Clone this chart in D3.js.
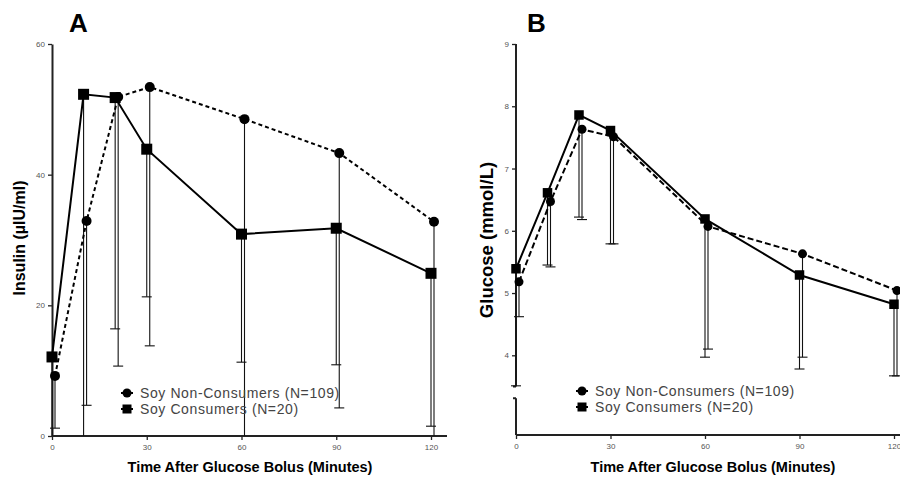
<!DOCTYPE html>
<html>
<head>
<meta charset="utf-8">
<script src="https://cdn.jsdelivr.net/npm/d3@7"></script>
<style>
  body { margin: 0; background: #fff; }
  svg { display: block; font-family: "Liberation Sans", Arial, sans-serif; }
</style>
</head>
<body>
<div id="viz"></div>
<script>
// data
var times = [0, 10, 20, 30, 60, 90, 120];
var seriesNames = ["Soy Non-Consumers (N=109)", "Soy Consumers (N=20)"];

// panel A: insulin
var insulinNon = [9.2, 32.9, 51.9, 53.4, 48.5, 43.3, 32.8];
var insulinNonLow = [1.2, 4.7, 10.7, 13.8, -5, 4.3, -5];
var insulinSoy = [12.1, 52.3, 51.8, 43.9, 30.9, 31.8, 24.9];
var insulinSoyLow = [-5, -5, 16.4, 21.3, 11.3, 10.9, 1.5];
var insulinTicks = [0, 20, 40, 60];

// panel B: glucose
var glucoseNon = [5.18, 6.47, 7.63, 7.51, 6.07, 5.63, 5.04];
var glucoseNonLow = [4.62, 5.42, 6.18, 5.79, 4.10, 3.97, 3.67];
var glucoseSoy = [5.39, 6.61, 7.86, 7.61, 6.19, 5.29, 4.82];
var glucoseSoyLow = [3.51, 5.45, 6.22, 5.79, 3.97, 3.78, 3.67];
var glucoseTicks = [4, 5, 6, 7, 8, 9];

var xTicks = [0, 30, 60, 90, 120];

var width = 900, height = 479;
var svg = d3.select('#viz').append('svg')
  .attr('width', width)
  .attr('height', height);

function panel(o) {
  var g = svg.append('g');
  var x = d3.scaleLinear().domain([0, 120]).range([o.x0, o.x1]);
  var y = d3.scaleLinear().domain(o.yDomain).range([o.yBottom, 44]).clamp(true);

  // axes
  var yAxis = d3.axisLeft(y).tickValues(o.yTicks).tickFormat(d3.format('d')).tickSize(4).tickSizeOuter(0);
  var xAxis = d3.axisBottom(x).tickValues(xTicks).tickFormat(d3.format('d')).tickSize(4).tickSizeOuter(0);

  var ya = g.append('g').attr('transform', `translate(${o.x0},0)`).call(yAxis);
  var xa = g.append('g').attr('transform', `translate(0,${o.yBottom})`).call(xAxis);
  [ya, xa].forEach(function(a) {
    a.selectAll('text').attr('font-size', 8).attr('fill', '#555')
      .attr('font-family', '"Liberation Sans", Arial, sans-serif');
    a.selectAll('line').attr('stroke', '#222').attr('stroke-width', 1.3);
    a.select('.domain').attr('stroke', '#222').attr('stroke-width', 2);
  });
  xa.select('.domain').attr('d', `M${o.x0},0H${o.xEnd}`);
  if (o.yBreak) {
    ya.select('.domain').attr('d',
      `M0,${y(o.yDomain[1])}V${y(o.yBreak[1])}M-3,${y(o.yBreak[1])}H0` +
      `M-3,${y(o.yBreak[0])}H0M0,${y(o.yBreak[0])}V${o.yBottom}`);
  }
  xa.selectAll('.tick text').attr('dy', '0.9em');

  // series
  var series = [
    { vals: o.non, low: o.nonLow, dx: 3, dash: o.dash, shape: 'circle' },
    { vals: o.soy, low: o.soyLow, dx: 0, dash: null, shape: 'square' }
  ];

  series.forEach(function(s) {
    var pts = times.map(function(t, i) { return { t: t, v: s.vals[i], lo: s.low[i] }; });
    // error bars (lower only)
    var eb = g.append('g');
    eb.selectAll('line.v').data(pts).join('line')
      .attr('x1', d => x(d.t) + s.dx).attr('x2', d => x(d.t) + s.dx)
      .attr('y1', d => y(d.v)).attr('y2', d => y(d.lo))
      .attr('stroke', '#111').attr('stroke-width', 1.1);
    eb.selectAll('line.c').data(pts.filter(d => d.lo > o.yDomain[0])).join('line')
      .attr('x1', d => x(d.t) + s.dx - 5).attr('x2', d => x(d.t) + s.dx + 5)
      .attr('y1', d => y(d.lo)).attr('y2', d => y(d.lo))
      .attr('stroke', '#111').attr('stroke-width', 1.1);
  });

  series.forEach(function(s) {
    var pts = times.map(function(t, i) { return { t: t, v: s.vals[i] }; });
    var line = d3.line().x(d => x(d.t) + s.dx).y(d => y(d.v));
    g.append('path').datum(pts)
      .attr('d', line)
      .attr('fill', 'none')
      .attr('stroke', '#000')
      .attr('stroke-width', 2)
      .attr('stroke-dasharray', s.dash);
    if (s.shape === 'circle') {
      g.selectAll(null).data(pts).join('circle')
        .attr('cx', d => x(d.t) + s.dx).attr('cy', d => y(d.v))
        .attr('r', o.r).attr('fill', '#000');
    } else {
      g.selectAll(null).data(pts).join('rect')
        .attr('x', d => x(d.t) + s.dx - o.sq / 2).attr('y', d => y(d.v) - o.sq / 2)
        .attr('width', o.sq).attr('height', o.sq).attr('fill', '#000');
    }
  });

  // legend
  var lg = g.append('g').attr('transform', `translate(${o.legX},${o.legY})`);
  seriesNames.forEach(function(name, i) {
    var row = lg.append('g').attr('transform', `translate(0,${i * 16})`);
    row.append('line').attr('x1', -6).attr('x2', 6).attr('y1', 0).attr('y2', 0)
      .attr('stroke', '#000').attr('stroke-width', 2);
    if (i === 0) row.append('circle').attr('r', 4.5).attr('fill', '#000');
    else row.append('rect').attr('x', -4.5).attr('y', -4.5).attr('width', 9).attr('height', 9).attr('fill', '#000');
    row.append('text').attr('x', 13).attr('y', 5)
      .attr('font-size', 14).attr('fill', '#444').attr('letter-spacing', 0.6)
      .text(name);
  });

  // labels
  g.append('text')
    .attr('transform', `translate(${o.yLabX},${o.yLabY}) rotate(-90)`)
    .attr('text-anchor', 'middle').attr('font-weight', 'bold').attr('font-size', o.yLabSize)
    .text(o.yLabel);
  g.append('text')
    .attr('x', o.xLabX).attr('y', 472)
    .attr('text-anchor', 'middle').attr('font-weight', 'bold').attr('font-size', 14.5)
    .text('Time After Glucose Bolus (Minutes)');
  g.append('text')
    .attr('x', o.titleX).attr('y', 32)
    .attr('font-weight', 'bold').attr('font-size', 26)
    .text(o.title);
}

panel({
  title: 'A', titleX: 69,
  x0: 52, x1: 431, xEnd: 447, yBottom: 436,
  yDomain: [0, 60], yTicks: insulinTicks,
  non: insulinNon, nonLow: insulinNonLow, soy: insulinSoy, soyLow: insulinSoyLow,
  dash: '4,3', r: 5, sq: 11,
  legX: 127, legY: 393,
  yLabel: 'Insulin (\u00b5IU/ml)', yLabSize: 16, yLabX: 25, yLabY: 238, xLabX: 250
});

panel({
  title: 'B', titleX: 527,
  x0: 516, x1: 894, xEnd: 900, yBottom: 435,
  yDomain: [2.72, 9], yTicks: glucoseTicks, yBreak: [3.31, 3.5],
  non: glucoseNon, nonLow: glucoseNonLow, soy: glucoseSoy, soyLow: glucoseSoyLow,
  dash: '6,3', r: 4.5, sq: 9.5,
  legX: 582, legY: 391,
  yLabel: 'Glucose (mmol/L)', yLabSize: 18.5, yLabX: 493, yLabY: 240, xLabX: 713
});
</script>
</body>
</html>
